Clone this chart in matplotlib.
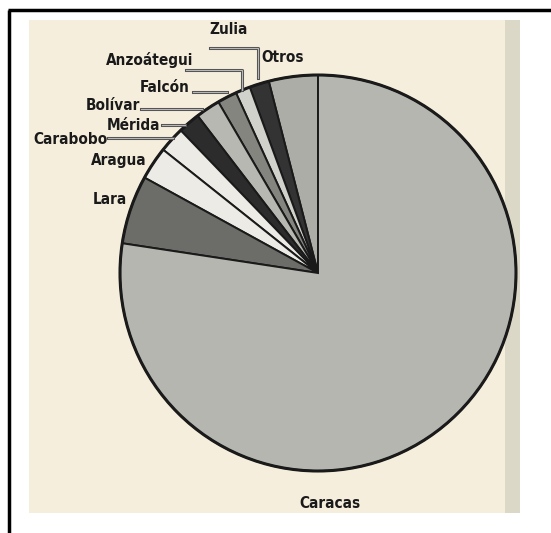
import matplotlib
matplotlib.use("Agg")
import matplotlib.pyplot as plt
from matplotlib.patches import Rectangle
from matplotlib import font_manager

# valores (porcentaje aproximado)
regiones = ["Otros", "Zulia", "Anzoátegui", "Falcón", "Bolívar", "Mérida",
            "Carabobo", "Aragua", "Lara", "Caracas"]
valores = [4.0, 1.6, 1.2, 1.6, 2.0, 1.8, 2.1, 2.7, 5.6, 77.4]
colores = ["#adada7", "#333333", "#d2d2cc", "#858580", "#b8b8b2", "#2c2c2c",
           "#ecebe5", "#ecebe5", "#6c6c68", "#b6b6b0"]

# police etroite grasse si disponible
candidats = [f for f in font_manager.fontManager.ttflist
             if ("Narrow" in f.fname or "Condensed" in f.fname)
             and "Bold" in f.fname and "Italic" not in f.fname
             and "Oblique" not in f.fname]
if candidats:
    police = font_manager.FontProperties(fname=candidats[0].fname, size=11)
else:
    police = font_manager.FontProperties(family="DejaVu Sans", weight="bold", size=10)

W, H = 551, 533
fig = plt.figure(figsize=(W / 100, H / 100), dpi=100)
fig.patch.set_facecolor("white")
ax = fig.add_axes([0, 0, 1, 1])

# y inverse -> counterclock=False pour tourner dans le sens trigo a l'ecran
ax.pie(valores, colors=colores, startangle=-90, counterclock=False,
       center=(318, 273), radius=198, frame=True,
       wedgeprops=dict(edgecolor="#1a1a1a", linewidth=1.4))
ax.set_xlim(0, W)
ax.set_ylim(H, 0)  # coordonnees en pixels, y vers le bas
ax.axis("off")

# fond "papier" scanne
ax.add_patch(Rectangle((29, 20), 491, 493, facecolor="#f5eedd", edgecolor="none", zorder=-2))
ax.add_patch(Rectangle((505, 20), 15, 493, facecolor="#dcd8c8", edgecolor="none", zorder=-1))

# cadre
ax.plot([8, W], [10, 10], color="black", lw=2.5, solid_capstyle="butt")
ax.plot([9, 9], [10, H], color="black", lw=2.5, solid_capstyle="butt")

# contour exterieur plus epais
circ = plt.Circle((318, 273), 198, fill=False, edgecolor="#1a1a1a", lw=2.2)
ax.add_patch(circ)

# etiquettes (position du texte) et traits de rappel
etiquettes = {
    "Zulia": (229, 29),
    "Otros": (283, 58),
    "Anzoátegui": (150, 60),
    "Falcón": (165, 87),
    "Bolívar": (113, 105),
    "Mérida": (133, 125),
    "Carabobo": (70, 139),
    "Aragua": (119, 160),
    "Lara": (110, 199),
    "Caracas": (330, 504),
}
for nom, (x, y) in etiquettes.items():
    ax.text(x, y, nom, ha="center", va="center", fontproperties=police,
            color="#1a1a1a")

rappels = [
    [(210, 48), (258, 48), (258, 78)],
    [(186, 70), (242, 70), (242, 90)],
    [(193, 92), (227, 92)],
    [(141, 109), (202, 109)],
    [(162, 125), (185, 125)],
    [(108, 138), (173, 138)],
]
for pts in rappels:
    xs = [p[0] for p in pts]
    ys = [p[1] for p in pts]
    ax.plot(xs, ys, color="#555555", lw=2.2)
    ax.plot(xs, ys, color="#bbbbbb", lw=0.7)

fig.savefig("out.png", dpi=100)
